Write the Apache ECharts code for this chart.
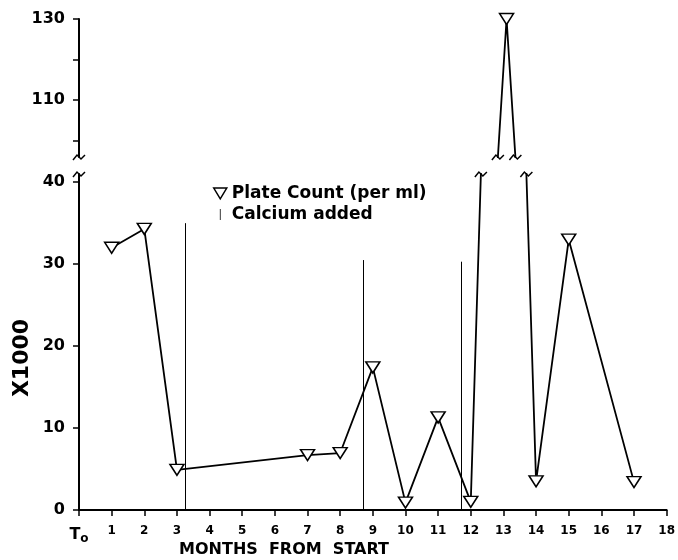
<!DOCTYPE html>
<html>
<head>
<meta charset="utf-8">
<script src="https://cdn.jsdelivr.net/npm/echarts@6/dist/echarts.min.js"></script>
<style>
  html, body { margin: 0; padding: 0; background: #fff; }
  #main { width: 678px; height: 560px; }
</style>
</head>
<body>
<div id="main"></div>
<script>
  // data
  const months = [1, 2, 3, 7, 8, 9, 10, 11, 12, 13, 14, 15, 17];
  const plateCount = [32, 34.3, 4.9, 6.7, 6.95, 17.4, 0.9, 11.3, 1.0, 130, 3.5, 33, 3.4];
  const calciumMonths = [3.25, 8.7, 11.72];
  const calciumTops = [35, 30.5, 30.3];
  const lowerTicks = [0, 10, 20, 30, 40];
  const upperTicks = [100, 110, 120, 130];
  const upperLabels = [110, 130];

  const font = 'DejaVu Sans';
  const tri = 'path://M0,0 L12,0 L6,10 Z';
  const points = months.map((m, i) => [m, plateCount[i]]);

  let chart = echarts.init(document.getElementById('main'));

  const lineSeries = (idx) => ({
    name: 'Plate Count (per ml)',
    type: 'line',
    xAxisIndex: idx,
    yAxisIndex: idx,
    data: points,
    clip: true,
    symbol: tri,
    symbolSize: [14, 11],
    itemStyle: { color: '#fff', borderColor: '#000', borderWidth: 1.5 },
    lineStyle: { color: '#000', width: 1.8 },
    z: 3
  });

  const yLabel = { fontSize: 16, fontWeight: 'bold', color: '#000', margin: 14 };

  chart.setOption({
    animation: false,
    backgroundColor: '#fff',
    textStyle: { fontFamily: font, color: '#000' },
    legend: {
      orient: 'vertical',
      left: 208,
      top: 180,
      itemWidth: 13,
      itemHeight: 11,
      itemGap: 4,
      textStyle: { fontFamily: font, fontSize: 17, fontWeight: 'bold', color: '#000' },
      data: [
        { name: 'Plate Count (per ml)', icon: tri,
          itemStyle: { color: '#fff', borderColor: '#000', borderWidth: 1.5 } },
        { name: 'Calcium added', icon: 'path://M0,0 L1,0 L1,14 L0,14 Z',
          itemStyle: { color: '#000', borderWidth: 0 } }
      ]
    },
    grid: [
      { left: 79, right: 7, top: 174, bottom: 50 },   // lower part 0-40
      { left: 79, right: 7, top: 19, height: 138 }    // upper part above break
    ],
    xAxis: [
      {
        type: 'value', gridIndex: 0, min: 0, max: 18, interval: 1,
        axisLine: { onZero: false, lineStyle: { color: '#000', width: 2 } },
        axisTick: { length: 6, lineStyle: { color: '#000', width: 1.5 } },
        splitLine: { show: false },
        axisLabel: {
          margin: 15,
          fontSize: 12, fontWeight: 'bold', color: '#000',
          formatter: v => v === 0 ? '{t|T}{s|o}' : String(v),
          rich: {
            t: { fontSize: 16, fontWeight: 'bold', color: '#000' },
            s: { fontSize: 12, fontWeight: 'bold', color: '#000', padding: [8, 0, 0, 0] }
          }
        }
      },
      { type: 'value', gridIndex: 1, min: 0, max: 18, show: false }
    ],
    yAxis: [
      {
        type: 'value', gridIndex: 0, min: 0, max: 41,
        axisLine: { show: true, onZero: false, lineStyle: { color: '#000', width: 2 } },
        axisTick: { show: true, length: 6, customValues: lowerTicks, lineStyle: { color: '#000', width: 1.5 } },
        axisLabel: Object.assign({ customValues: lowerTicks }, yLabel),
        splitLine: { show: false }
      },
      {
        type: 'value', gridIndex: 1, min: 96, max: 130,
        axisLine: { show: true, onZero: false, lineStyle: { color: '#000', width: 2 } },
        axisTick: { show: true, length: 6, customValues: upperTicks, lineStyle: { color: '#000', width: 1.5 } },
        axisLabel: Object.assign({ customValues: upperLabels }, yLabel),
        splitLine: { show: false }
      }
    ],
    series: [
      lineSeries(0),
      lineSeries(1),
      {
        name: 'Calcium added',
        type: 'line',
        xAxisIndex: 0,
        yAxisIndex: 0,
        data: [],
        itemStyle: { color: '#000' },
        markLine: {
          silent: true,
          symbol: ['none', 'none'],
          label: { show: false },
          lineStyle: { color: '#000', width: 1, type: 'solid' },
          data: calciumMonths.map((m, i) => [{ coord: [m, 0] }, { coord: [m, calciumTops[i]] }])
        }
      }
    ]
  });

  // break marks on the axis and on the lines going to the peak
  const lo = v => chart.convertToPixel({ xAxisIndex: 0, yAxisIndex: 0 }, v);
  const hi = v => chart.convertToPixel({ xAxisIndex: 1, yAxisIndex: 1 }, v);
  const zig = (x, y) => ({
    type: 'polyline',
    shape: { points: [[x - 6, y + 3], [x - 2, y - 2], [x + 2, y + 2], [x + 6, y - 2]] },
    style: { stroke: '#000', lineWidth: 1.5, fill: null },
    z: 10
  });
  const cross = (toPx, a, b, yv) => {
    const p = toPx(a), q = toPx(b), y = toPx([0, yv])[1];
    const t = (y - p[1]) / (q[1] - p[1]);
    return [p[0] + t * (q[0] - p[0]), y];
  };
  const peak = months.indexOf(13);
  const graphics = [];
  const lowTop = lo([0, 41]);
  const upBottom = hi([0, 96]);
  graphics.push(zig(lowTop[0], lowTop[1]));
  graphics.push(zig(upBottom[0], upBottom[1]));
  [[peak - 1, peak], [peak, peak + 1]].forEach(([i, j]) => {
    const c1 = cross(lo, points[i], points[j], 41);
    const c2 = cross(hi, points[i], points[j], 96);
    graphics.push(zig(c1[0], c1[1]));
    graphics.push(zig(c2[0], c2[1]));
  });
  graphics.push({
    type: 'text', x: 22, y: 358, rotation: Math.PI / 2,
    style: { text: 'X1000', fontFamily: font, fontSize: 22, fontWeight: 'bold',
      fill: '#000', align: 'center', verticalAlign: 'middle' }
  });
  graphics.push({
    type: 'text', x: 284, y: 550,
    style: { text: 'MONTHS  FROM  START', fontFamily: font, fontSize: 16, fontWeight: 'bold',
      fill: '#000', align: 'center', verticalAlign: 'middle' }
  });
  chart.setOption({ graphic: graphics });
</script>
</body>
</html>
